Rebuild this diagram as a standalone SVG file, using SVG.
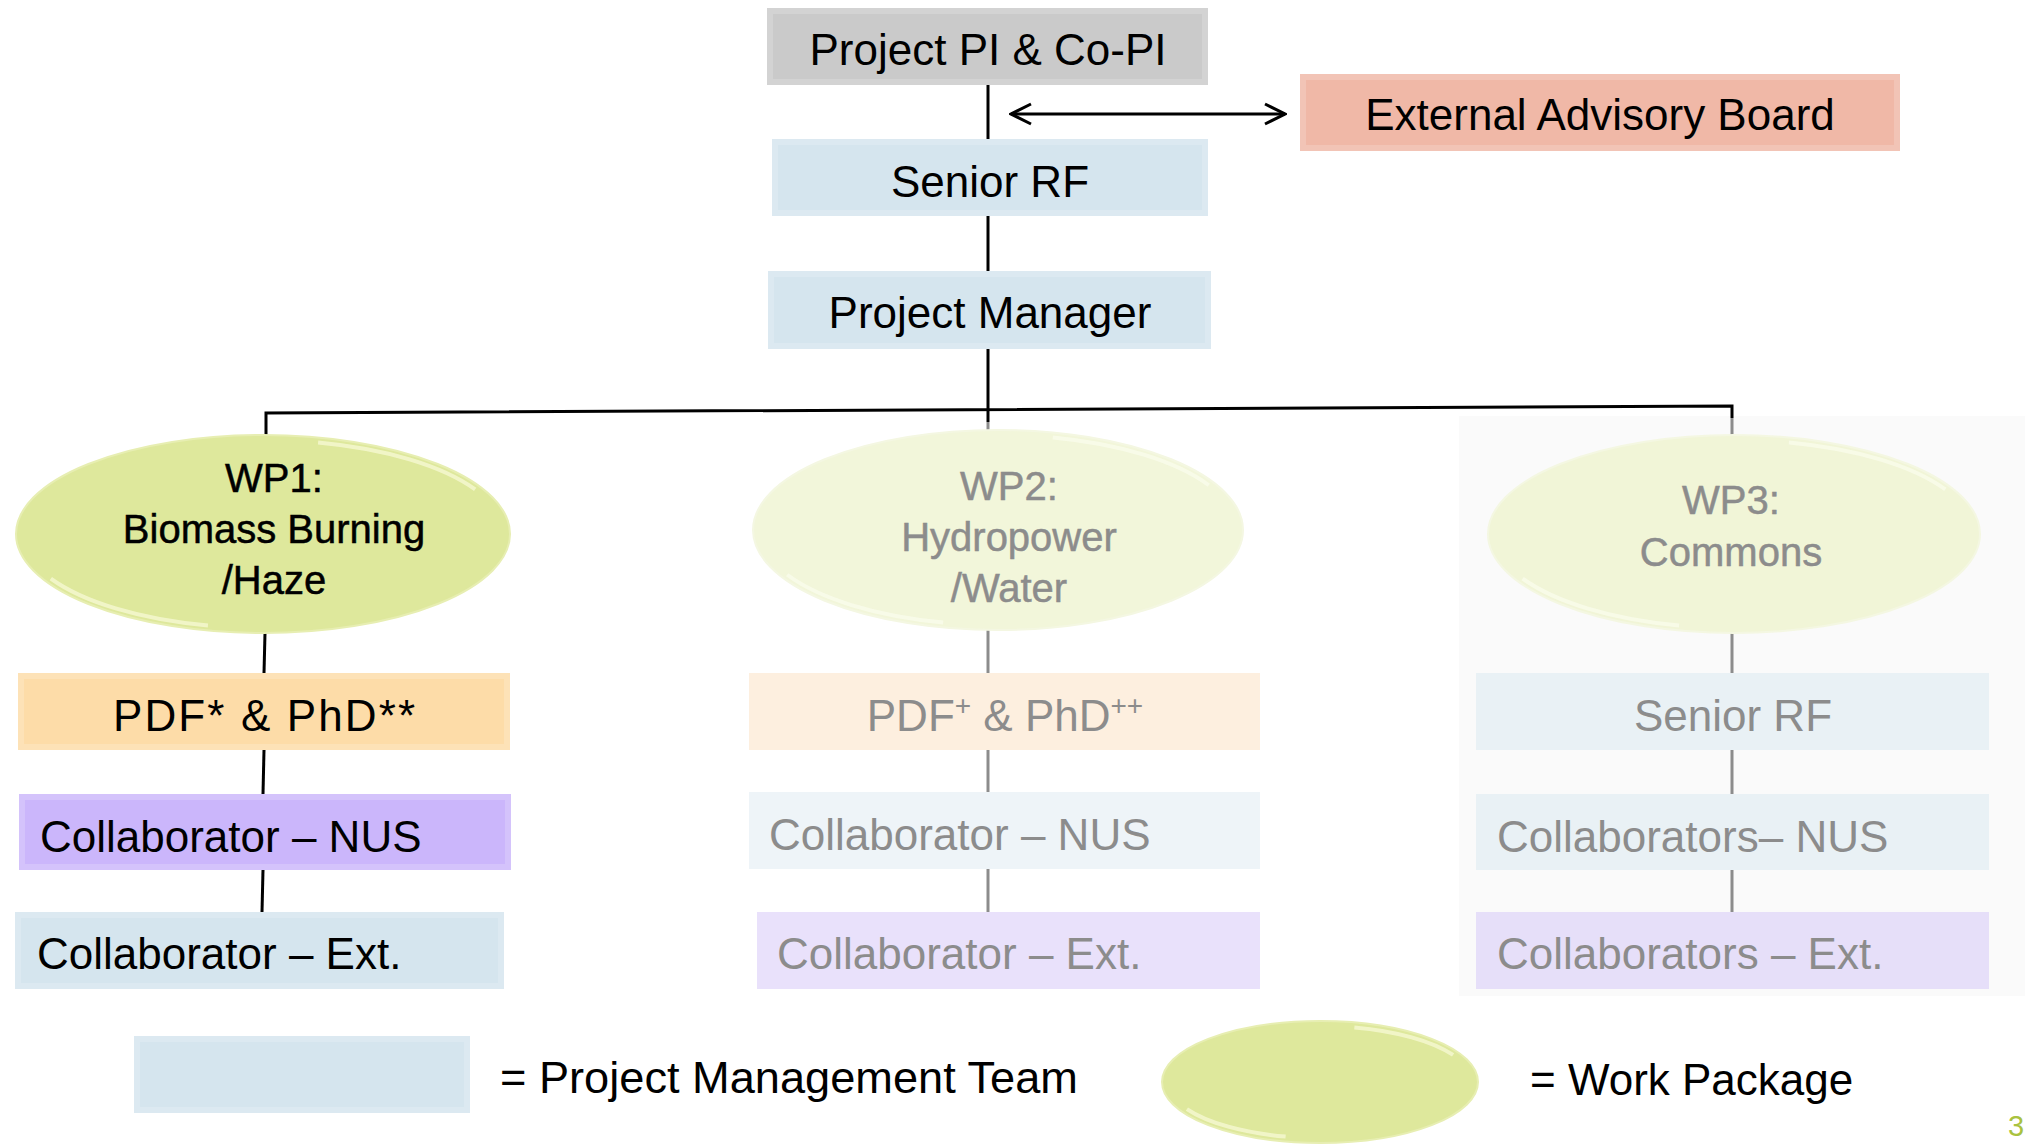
<svg xmlns="http://www.w3.org/2000/svg" width="2025" height="1145" viewBox="0 0 2025 1145">
  <style>
    text { font-family: "Liberation Sans", Arial, sans-serif; font-size: 44px; fill: #000; }
    .faded { fill: #8c8c8c; }
    .wp { font-size: 40px; stroke: #000; stroke-width: 0.5; }
    .wpf { font-size: 40px; fill: #8c8c8c; stroke: #8c8c8c; stroke-width: 0.5; }
    .bevel { fill: none; stroke: #ffffff; stroke-opacity: 0.18; stroke-width: 6; }
    .conn { fill: none; stroke: #000; stroke-width: 3; }
    .connf { fill: none; stroke: #8c8c8c; stroke-width: 3; }
    .gloss { fill: none; stroke-width: 4; stroke-opacity: 0.75; stroke-dasharray: 0 30 15 35 15 5; }
  </style>
  <defs>
    <marker id="chev" markerUnits="userSpaceOnUse" viewBox="-22 -12 24 24" refX="0" refY="0" markerWidth="24" markerHeight="24" orient="auto-start-reverse">
      <path d="M-20,-10 L0,0 L-20,10" fill="none" stroke="#000" stroke-width="3"/>
    </marker>
  </defs>

  <rect x="0" y="0" width="2025" height="1145" fill="#ffffff"/>
  <!-- faint panel behind WP3 -->
  <rect x="1459" y="416" width="566" height="580" fill="#fafafa"/>

  <g id="connectors">
    <line class="conn" x1="988" y1="85" x2="988" y2="139"/>
    <line class="conn" x1="988" y1="216" x2="988" y2="271"/>
    <line class="conn" x1="988" y1="349" x2="988" y2="422"/>
    <line class="connf" x1="988" y1="422" x2="988" y2="431"/>
    <polyline class="conn" points="266,437 266,413 1732,406 1732,418"/>
    <line class="connf" x1="1732" y1="418" x2="1732" y2="436"/>
    <line class="conn" x1="1011" y1="114" x2="1285" y2="114" marker-start="url(#chev)" marker-end="url(#chev)"/>
    <line class="conn" x1="265" y1="633" x2="264" y2="673"/>
    <line class="conn" x1="264" y1="750" x2="263" y2="794"/>
    <line class="conn" x1="263" y1="870" x2="262" y2="912"/>
    <line class="connf" x1="988" y1="630" x2="988" y2="673"/>
    <line class="connf" x1="988" y1="750" x2="988" y2="792"/>
    <line class="connf" x1="988" y1="869" x2="988" y2="912"/>
    <line class="connf" x1="1732" y1="633" x2="1732" y2="673"/>
    <line class="connf" x1="1732" y1="750" x2="1732" y2="794"/>
    <line class="connf" x1="1732" y1="870" x2="1732" y2="912"/>
  </g>

  <g id="pi">
    <rect x="767" y="8" width="441" height="77" fill="#cacaca"/>
    <rect class="bevel" x="770" y="11" width="435" height="71"/>
    <text x="988" y="65" text-anchor="middle">Project PI &amp; Co-PI</text>
  </g>
  <g id="eab">
    <rect x="1300" y="74" width="600" height="77" fill="#f0b8a7"/>
    <rect class="bevel" x="1303" y="77" width="594" height="71"/>
    <text x="1600" y="130" text-anchor="middle">External Advisory Board</text>
  </g>
  <g id="senior-rf">
    <rect x="772" y="139" width="436" height="77" fill="#d5e5ee"/>
    <rect class="bevel" x="775" y="142" width="430" height="71"/>
    <text x="990" y="197" text-anchor="middle">Senior RF</text>
  </g>
  <g id="pm">
    <rect x="768" y="271" width="443" height="78" fill="#d5e5ee"/>
    <rect class="bevel" x="771" y="274" width="437" height="72"/>
    <text x="990" y="328" text-anchor="middle">Project Manager</text>
  </g>

  <!-- WP1 column -->
  <g id="wp1">
    <ellipse cx="263" cy="534" rx="247" ry="99" fill="#dee89c" stroke="#e7eeb2" stroke-width="2"/>
    <ellipse class="gloss" cx="263" cy="534" rx="241" ry="94" pathLength="100" stroke="#f7fad6"/>
    <text class="wp" x="274" y="492" text-anchor="middle">WP1:</text>
    <text class="wp" x="274" y="543" text-anchor="middle">Biomass Burning</text>
    <text class="wp" x="274" y="594" text-anchor="middle">/Haze</text>
  </g>
  <g id="wp1-pdf">
    <rect x="18" y="673" width="492" height="77" fill="#fddca8"/>
    <rect class="bevel" x="21" y="676" width="486" height="71"/>
    <text x="264" y="731" text-anchor="middle" textLength="302" lengthAdjust="spacing">PDF* &amp; PhD**</text>
  </g>
  <g id="wp1-nus">
    <rect x="19" y="794" width="492" height="76" fill="#cbb6fb"/>
    <rect class="bevel" x="22" y="797" width="486" height="70"/>
    <text x="40" y="852">Collaborator – NUS</text>
  </g>
  <g id="wp1-ext">
    <rect x="15" y="912" width="489" height="77" fill="#d5e5ee"/>
    <rect class="bevel" x="18" y="915" width="483" height="71"/>
    <text x="37" y="969">Collaborator – Ext.</text>
  </g>

  <!-- WP2 column (faded) -->
  <g id="wp2">
    <ellipse cx="998" cy="530" rx="245" ry="100" fill="#f2f6da" stroke="#f4f7e2" stroke-width="2"/>
    <ellipse class="gloss" cx="998" cy="530" rx="239" ry="95" pathLength="100" stroke="#fafcec"/>
    <text class="wpf" x="1009" y="500" text-anchor="middle">WP2:</text>
    <text class="wpf" x="1009" y="551" text-anchor="middle">Hydropower</text>
    <text class="wpf" x="1009" y="602" text-anchor="middle">/Water</text>
  </g>
  <g id="wp2-pdf">
    <rect x="749" y="673" width="511" height="77" fill="#fdefdf"/>
    <text class="faded" x="1005" y="731" text-anchor="middle">PDF<tspan font-size="28" dy="-16">+</tspan><tspan dy="16"> &amp; PhD</tspan><tspan font-size="28" dy="-16">++</tspan></text>
  </g>
  <g id="wp2-nus">
    <rect x="749" y="792" width="511" height="77" fill="#eef4f8"/>
    <text class="faded" x="769" y="850">Collaborator – NUS</text>
  </g>
  <g id="wp2-ext">
    <rect x="757" y="912" width="503" height="77" fill="#e9e1fb"/>
    <text class="faded" x="777" y="969">Collaborator – Ext.</text>
  </g>

  <!-- WP3 column (faded) -->
  <g id="wp3">
    <ellipse cx="1734" cy="534" rx="246" ry="99" fill="#f1f5d7" stroke="#f4f7e2" stroke-width="2"/>
    <ellipse class="gloss" cx="1734" cy="534" rx="240" ry="94" pathLength="100" stroke="#fafcec"/>
    <text class="wpf" x="1731" y="514" text-anchor="middle">WP3:</text>
    <text class="wpf" x="1731" y="566" text-anchor="middle">Commons</text>
  </g>
  <g id="wp3-rf">
    <rect x="1476" y="673" width="513" height="77" fill="#e9f1f5"/>
    <text class="faded" x="1733" y="731" text-anchor="middle">Senior RF</text>
  </g>
  <g id="wp3-nus">
    <rect x="1476" y="794" width="513" height="76" fill="#e9f1f5"/>
    <text class="faded" x="1497" y="852">Collaborators– NUS</text>
  </g>
  <g id="wp3-ext">
    <rect x="1476" y="912" width="513" height="77" fill="#e6dff9"/>
    <text class="faded" x="1497" y="969">Collaborators – Ext.</text>
  </g>

  <!-- Legend -->
  <g id="legend-pmt">
    <rect x="134" y="1036" width="336" height="77" fill="#d5e5ee"/>
    <rect class="bevel" x="137" y="1039" width="330" height="71"/>
    <text x="500" y="1093" textLength="578" lengthAdjust="spacingAndGlyphs">= Project Management Team</text>
  </g>
  <g id="legend-wp">
    <ellipse cx="1320" cy="1082" rx="158" ry="61" fill="#dee89c" stroke="#e7eeb2" stroke-width="2"/>
    <ellipse class="gloss" cx="1320" cy="1082" rx="152" ry="56" pathLength="100" stroke="#f7fad6"/>
    <text x="1530" y="1095">= Work Package</text>
  </g>
  <text x="2008" y="1136" style="font-size:29px; fill:#a9c23f;">3</text>
</svg>
